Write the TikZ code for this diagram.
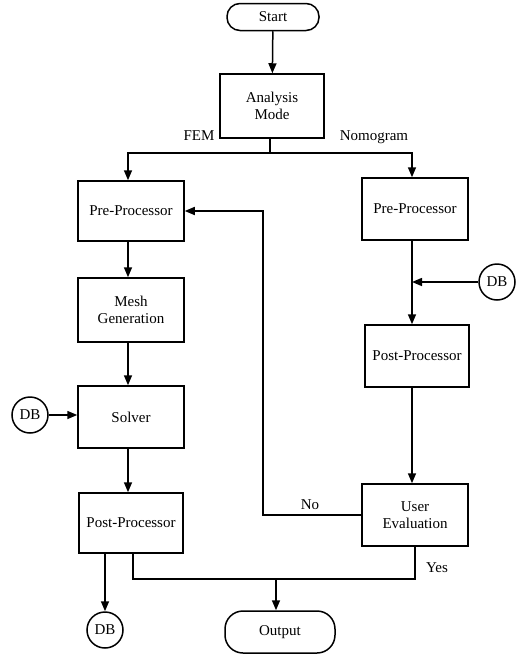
\documentclass[tikz,border=0pt]{standalone}
\usepackage{fontspec}
\setmainfont{Liberation Serif}
\usetikzlibrary{arrows.meta}
\begin{document}
\begin{tikzpicture}[x=1pt,y=-1pt,
  box/.style={draw,line width=1.5pt,inner sep=0pt,align=center,font=\fontsize{15}{17}\selectfont},
  term/.style={box,rounded corners=13pt},
  db/.style={draw,circle,line width=1.5pt,minimum size=36pt,inner sep=0pt,font=\fontsize{15}{17}\selectfont},
  arr/.style={line width=1.5pt,-{Triangle[length=10pt,width=8pt]}},
  ln/.style={line width=1.5pt},
  lab/.style={font=\fontsize{15}{17}\selectfont}]
\useasboundingbox (0,0) rectangle (521,656);
\node[term,minimum width=92pt,minimum height=27pt] (start) at (273,17) {Start};
\node[box,minimum width=104pt,minimum height=64pt] (mode) at (272,106) {Analysis\\Mode};
\node[box,minimum width=106pt,minimum height=60pt] (lpre) at (131,211) {Pre-Processor};
\node[box,minimum width=106pt,minimum height=64pt] (mesh) at (131,310) {Mesh\\Generation};
\node[box,minimum width=106pt,minimum height=62pt] (solver) at (131,417) {Solver};
\node[box,minimum width=104pt,minimum height=60pt] (lpost) at (131,523) {Post-Processor};
\node[box,minimum width=106pt,minimum height=62pt] (rpre) at (415,209) {Pre-Processor};
\node[box,minimum width=104pt,minimum height=62pt] (rpost) at (417,356) {Post-Processor};
\node[box,minimum width=106pt,minimum height=62pt] (ueval) at (415,515) {User\\Evaluation};
\node[term,minimum width=110pt,minimum height=42pt,rounded corners=18pt] (output) at (280,632) {Output};
\node[db] (db1) at (30,415) {DB};
\node[db] (db2) at (105,630) {DB};
\node[db] (db3) at (497,282) {DB};
\coordinate (j1) at (270,153);
\coordinate (lx) at (128,0);
\coordinate (rx) at (412,0);
\coordinate (nx) at (263,0);
\coordinate (jy) at (0,579);
\draw[arr] (start) -- (mode);
\draw[ln] (mode.south -| j1) -- (j1);
\draw[arr] (j1) -| (lpre.north -| lx);
\draw[arr] (j1) -| (rpre.north -| rx);
\node[lab] (fem) at (199,136) {FEM};
\node[lab] (nomo) at (374,137) {Nomogram};
\draw[arr] (lpre.south -| lx) -- (mesh.north -| lx);
\draw[arr] (mesh.south -| lx) -- (solver.north -| lx);
\draw[arr] (solver.south -| lx) -- (lpost.north -| lx);
\draw[arr] (db1) -- (solver.west |- db1);
\draw[arr] (lpost.south -| db2) -- (db2);
\draw[arr] (rpre.south -| rx) -- (rpost.north -| rx);
\draw[arr] (db3) -- (db3 -| rx);
\draw[arr] (rpost.south -| rx) -- (ueval.north -| rx);
\draw[arr] (ueval.west) -- (ueval.west -| nx) -- (lpre.east -| nx) -- (lpre.east);
\node[lab] (no) at (310,505) {No};
\draw[ln] (ueval.south) -- (ueval.south |- jy) -- ([xshift=2pt]lpost.south |- jy) -- ([xshift=2pt]lpost.south);
\draw[arr] ([xshift=-4pt]output.north |- jy) -- ([xshift=-4pt]output.north);
\node[lab] (yes) at (437,568) {Yes};
\end{tikzpicture}
\end{document}
